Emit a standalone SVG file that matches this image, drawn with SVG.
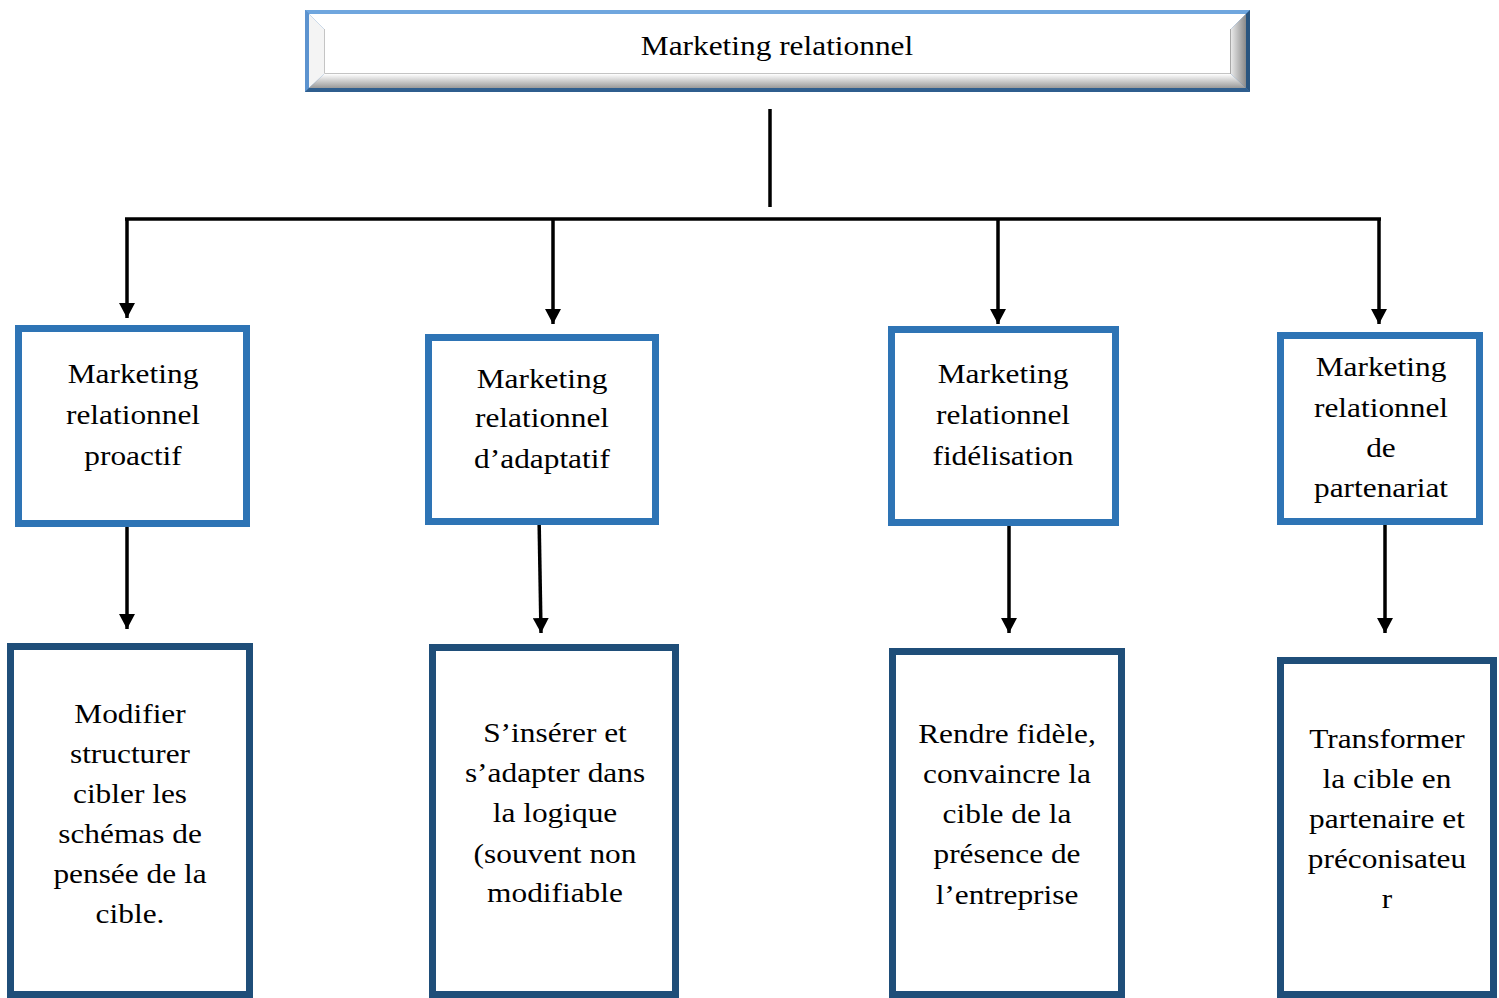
<svg xmlns="http://www.w3.org/2000/svg" width="1499" height="998" viewBox="0 0 1499 998">
<style>
.t{font-family:"Liberation Serif","Times New Roman",serif;font-size:28px;fill:#000;text-anchor:middle}
.b1{fill:#fff;stroke:#2E74B5;stroke-width:7}
.b2{fill:#fff;stroke:#1F4E79;stroke-width:7}
.c{stroke:#000;stroke-width:3.5;fill:none}
</style>
<defs>
<marker id="ah" markerUnits="userSpaceOnUse" markerWidth="16" markerHeight="16" refX="15" refY="8" orient="auto" viewBox="0 0 16 16">
<path d="M0,0 L15,8 L0,16 Z" fill="#000"/>
</marker>
<linearGradient id="bot" x1="0" y1="0" x2="0" y2="1">
<stop offset="0" stop-color="#ffffff"/><stop offset="1" stop-color="#9a9a9a"/>
</linearGradient>
<linearGradient id="rgt" x1="0" y1="0" x2="1" y2="0">
<stop offset="0" stop-color="#e8e8e8"/><stop offset="1" stop-color="#8a8a8a"/>
</linearGradient>
</defs>

<g id="title">
<rect x="305" y="10" width="945" height="82" fill="#4A80BE"/>
<polygon points="305,10 1250,10 1246,14 309,14" fill="#6FA6DE"/>
<polygon points="305,10 309,14 309,88 305,92" fill="#5C93CF"/>
<polygon points="1250,10 1250,92 1246,88 1246,14" fill="#2A557F"/>
<polygon points="305,92 1250,92 1246,88 309,88" fill="#2F5E8E"/>
<polygon points="309,14 1246,14 1231,29 324,29" fill="#ffffff"/>
<polygon points="309,14 324,29 324,74 309,88" fill="#f4f4f4"/>
<polygon points="309,88 324,74 1231,74 1246,88" fill="url(#bot)"/>
<polygon points="1246,14 1246,88 1231,74 1231,29" fill="url(#rgt)"/>
<rect x="324" y="29" width="907" height="45" fill="#fff"/>
<path d="M324.5,29 V73.5 H1231" stroke="#c4c4c4" stroke-width="1" fill="none"/>
<path d="M1230.5,29 V74" stroke="#a8a8a8" stroke-width="1" fill="none"/>
<g transform="translate(777 0) scale(1.12 1)"><text class="t" x="0" y="55">Marketing relationnel</text></g>
</g>

<g id="connectors">
<line class="c" x1="770" y1="109" x2="770" y2="207"/>
<line class="c" x1="125" y1="219" x2="1381" y2="219"/>
<line class="c" x1="127" y1="219" x2="127" y2="318" marker-end="url(#ah)"/>
<line class="c" x1="553" y1="219" x2="553" y2="324" marker-end="url(#ah)"/>
<line class="c" x1="998" y1="219" x2="998" y2="324" marker-end="url(#ah)"/>
<line class="c" x1="1379" y1="219" x2="1379" y2="324" marker-end="url(#ah)"/>
<line class="c" x1="127" y1="514" x2="127" y2="629" marker-end="url(#ah)"/>
<line class="c" x1="539" y1="514" x2="541" y2="633" marker-end="url(#ah)"/>
<line class="c" x1="1009" y1="514" x2="1009" y2="633" marker-end="url(#ah)"/>
<line class="c" x1="1385" y1="514" x2="1385" y2="633" marker-end="url(#ah)"/>
</g>

<g id="n1">
<rect class="b1" x="18.5" y="328.5" width="228" height="195"/>
<g transform="translate(133 0) scale(1.12 1)">
<text class="t" x="0" y="383">Marketing</text>
<text class="t" x="0" y="424">relationnel</text>
<text class="t" x="0" y="465">proactif</text>
</g>
</g>

<g id="n2">
<rect class="b1" x="428.5" y="337.5" width="227" height="184"/>
<g transform="translate(542 0) scale(1.12 1)">
<text class="t" x="0" y="388">Marketing</text>
<text class="t" x="0" y="427">relationnel</text>
<text class="t" x="0" y="468">d’adaptatif</text>
</g>
</g>

<g id="n3">
<rect class="b1" x="891.5" y="329.5" width="224" height="193"/>
<g transform="translate(1003 0) scale(1.12 1)">
<text class="t" x="0" y="383">Marketing</text>
<text class="t" x="0" y="424">relationnel</text>
<text class="t" x="0" y="465">fidélisation</text>
</g>
</g>

<g id="n4">
<rect class="b1" x="1280.5" y="335.5" width="199" height="186"/>
<g transform="translate(1381 0) scale(1.12 1)">
<text class="t" x="0" y="376">Marketing</text>
<text class="t" x="0" y="417">relationnel</text>
<text class="t" x="0" y="457">de</text>
<text class="t" x="0" y="497">partenariat</text>
</g>
</g>

<g id="n5">
<rect class="b2" x="10.5" y="646.5" width="239" height="348"/>
<g transform="translate(130 0) scale(1.12 1)">
<text class="t" x="0" y="723">Modifier</text>
<text class="t" x="0" y="763">structurer</text>
<text class="t" x="0" y="803">cibler les</text>
<text class="t" x="0" y="843">schémas de</text>
<text class="t" x="0" y="883">pensée de la</text>
<text class="t" x="0" y="923">cible.</text>
</g>
</g>

<g id="n6">
<rect class="b2" x="432.5" y="647.5" width="243" height="347"/>
<g transform="translate(555 0) scale(1.12 1)">
<text class="t" x="0" y="742">S’insérer et</text>
<text class="t" x="0" y="782">s’adapter dans</text>
<text class="t" x="0" y="822">la logique</text>
<text class="t" x="0" y="863">(souvent non</text>
<text class="t" x="0" y="902">modifiable</text>
</g>
</g>

<g id="n7">
<rect class="b2" x="892.5" y="651.5" width="229" height="343"/>
<g transform="translate(1007 0) scale(1.12 1)">
<text class="t" x="0" y="743">Rendre fidèle,</text>
<text class="t" x="0" y="783">convaincre la</text>
<text class="t" x="0" y="823">cible de la</text>
<text class="t" x="0" y="863">présence de</text>
<text class="t" x="0" y="904">l’entreprise</text>
</g>
</g>

<g id="n8">
<rect class="b2" x="1280.5" y="660.5" width="213" height="334"/>
<g transform="translate(1387 0) scale(1.12 1)">
<text class="t" x="0" y="748">Transformer</text>
<text class="t" x="0" y="788">la cible en</text>
<text class="t" x="0" y="828">partenaire et</text>
<text class="t" x="0" y="868">préconisateu</text>
<text class="t" x="0" y="908">r</text>
</g>
</g>
</svg>
